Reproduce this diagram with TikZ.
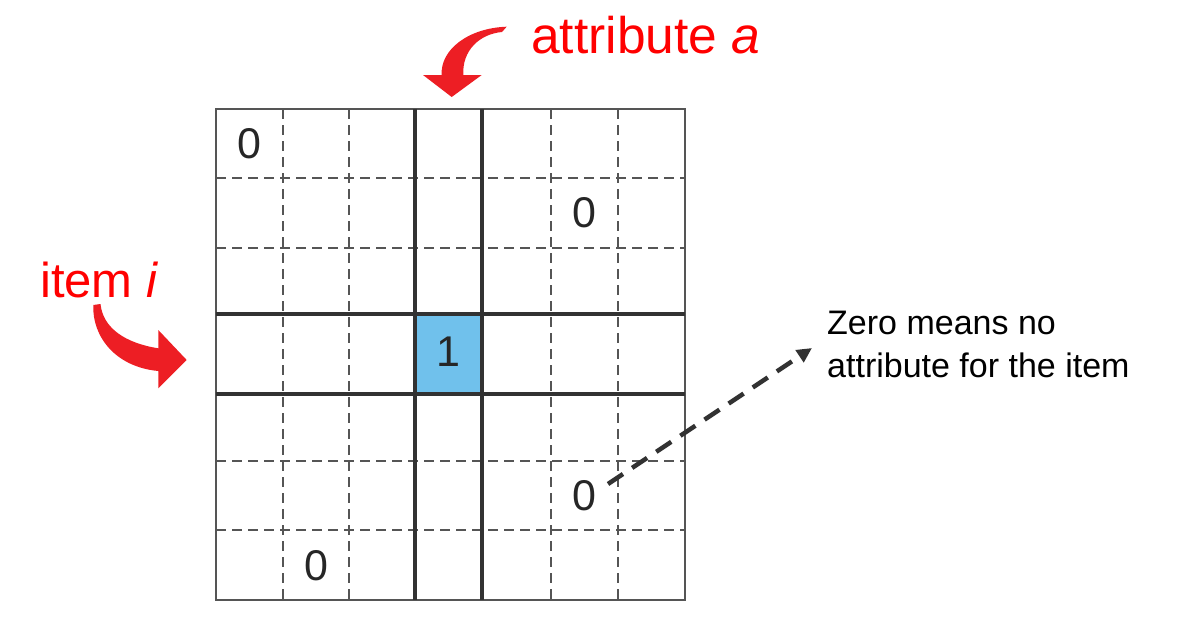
\documentclass[tikz,border=0pt]{standalone}
\usepackage{fontspec}
\setmainfont{Liberation Sans}
\definecolor{redarrow}{RGB}{237,30,36}
\definecolor{redtext}{RGB}{255,0,0}
\definecolor{cellblue}{RGB}{112,193,236}
\definecolor{gridgray}{RGB}{85,85,85}
\definecolor{thickgray}{RGB}{50,50,50}
\definecolor{notegray}{RGB}{50,50,50}
\tikzset{
  dashline/.style={draw=gridgray, line width=1.6pt, dash pattern=on 10pt off 6pt},
  borderline/.style={draw=gridgray, line width=2pt},
  thickline/.style={draw=thickgray, line width=3.5pt},
  digit/.style={inner sep=0pt, text=black!85, font=\fontsize{43}{50}\selectfont},
  redlabel/.style={inner sep=0pt, anchor=base west, text=redtext},
  notetext/.style={inner sep=0pt, anchor=west, align=left, text=black, font=\fontsize{34}{43}\selectfont},
  notearrow/.style={draw=notegray, line width=4.5pt, dash pattern=on 18pt off 11pt, -{Triangle[length=15pt,width=14pt]}},
  bigarrow/.style={fill=redarrow, draw=none}
}
\usetikzlibrary{arrows.meta}
\begin{document}
\begin{tikzpicture}[x=1pt,y=-1pt]
\useasboundingbox (0,0) rectangle (1180,640);
% highlighted cell
\fill[cellblue] (415,314) rectangle (482,394);
% dashed inner grid
\foreach \x in {283,349,551,618} \draw[dashline] (\x,109) -- (\x,600);
\foreach \y in {178,248,461,530} \draw[dashline] (216,\y) -- (685,\y);
% outer border
\draw[borderline] (216,109) rectangle (685,600);
% thick lines
\draw[thickline] (415,109) -- (415,600);
\draw[thickline] (482,109) -- (482,600);
\draw[thickline] (216,314) -- (685,314);
\draw[thickline] (216,394) -- (685,394);
% digits
\node[digit] (z1) at (249.5,143.5) {0};
\node[digit] (z2) at (584.5,213) {0};
\node[digit] (one) at (448.5,352) {1};
\node[digit] (z3) at (584.5,496) {0};
\node[digit] (z4) at (316,566) {0};
% labels
\node[redlabel, font=\fontsize{51.5}{60}\selectfont] (attr) at (531,53) {attribute \textit{a}};
\node[redlabel, font=\fontsize{49}{58}\selectfont] (item) at (40,297) {item \textit{i}};
% red block arrows
\fill[bigarrow] (506.7,26.7) .. controls (468,28) and (440,50) .. (441.7,75)
  -- (423,75) -- (451.7,97) -- (481.7,75) -- (463.3,75)
  .. controls (462,50) and (480,34) .. (502,32) -- cycle;
\fill[bigarrow] (93.3,305) .. controls (92,336) and (115,367) .. (158.3,371)
  -- (158.3,388.3) -- (186.7,360) -- (158.3,330) -- (158.3,348.3)
  .. controls (125,343) and (103,328) .. (100.5,304) -- cycle;
% note
\node[notetext] (note) at (827,344) {Zero means no\\attribute for the item};
\coordinate (ztail) at (608,484);
\coordinate (zhead) at (812,348);
\draw[notearrow] (ztail) -- (zhead);
\end{tikzpicture}
\end{document}
